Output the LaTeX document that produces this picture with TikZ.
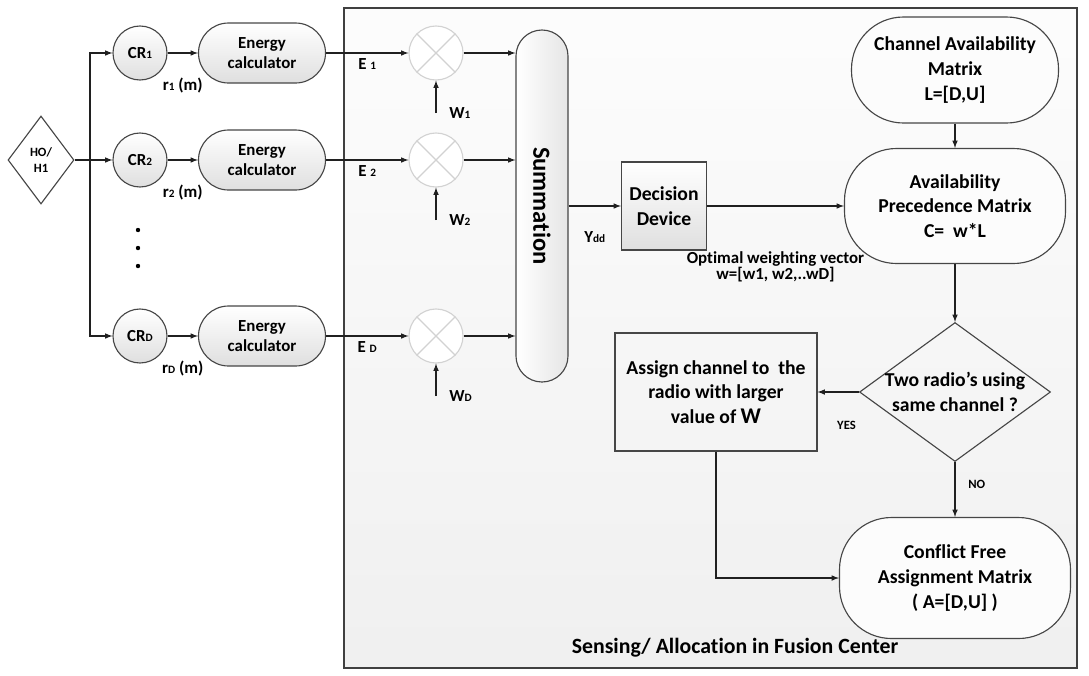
\documentclass[tikz,border=0pt]{standalone}
\usepackage{graphicx,fontspec}
\setmainfont[RawFeature={-liga;-clig;-calt;-dlig}]{Carlito}
\usetikzlibrary{shapes.geometric}

\begin{document}
\begin{tikzpicture}[x=0.25mm,y=-0.25mm,>=latex,
     font=\bfseries\fontsize{12}{14.5}\selectfont,
     link/.style = {draw=gray!25!black, thick},
     cr/.style = {draw=gray!55!black, thick, circle, minimum size=13.5mm, inner sep=0mm,
      top color=white, bottom color=gray!25},
     energy/.style = {draw=gray!55!black, thick, rectangle, rounded corners=7.5mm,
      minimum width=31.75mm, minimum height=15mm, align=center,
      top color=white, bottom color=gray!25, node distance=30.5mm},
     mult/.style = {draw=gray!35, thick, circle, minimum size=13.5mm, fill=white, node distance=43.5mm},
     sum/.style = {draw=gray!55!black, thick, rectangle, rounded corners=6.5mm,
      minimum width=13mm, minimum height=88mm, left color=white, right color=gray!20},
     block/.style = {draw=gray!55!black, thick, rectangle, align=center,
      font=\bfseries\fontsize{14}{17.5}\selectfont},
     mtx/.style = {draw=gray!55!black, thick, rectangle, rounded corners=13mm, align=center,
      fill=gray!2, font=\bfseries\fontsize{14}{17.5}\selectfont},
     decision/.style = {draw=gray!55!black, thick, diamond, align=center},
     note/.style = {align=center, font=\bfseries\fontsize{12}{12}\selectfont},
     yesno/.style = {font=\bfseries\fontsize{9}{10}\selectfont},
     heading/.style = {font=\bfseries\fontsize{15.5}{18}\selectfont}
    ]
    \useasboundingbox (0,0) rectangle (1089,675);

    % fusion center
    \draw[draw=gray!50!black, thick, top color=gray!2, bottom color=gray!12] (344,8) rectangle (1077,668);

    \node [decision, aspect=0.75, minimum width=16.5mm, minimum height=22mm, fill=white,
      font=\bfseries\fontsize{9}{11}\selectfont] (h0) at (41,160) {HO/\\H1};
    \node [cr] (cr1) at (140,53) {CR{\footnotesize 1}};
    \node [cr] (cr2) at (140,160) {CR{\footnotesize 2}};
    \node [cr] (crd) at (140,336) {CR{\footnotesize D}};
    \node [energy, right of=cr1] (ec1) {Energy\\calculator};
    \node [energy, right of=cr2] (ec2) {Energy\\calculator};
    \node [energy, right of=crd] (ecd) {Energy\\calculator};
    \node [mult, right of=ec1] (m1) {};
    \node [mult, right of=ec2] (m2) {};
    \node [mult, right of=ecd] (md) {};
    \coordinate [below of=m1, node distance=15mm] (w1);
    \coordinate [below of=m2, node distance=15mm] (w2);
    \coordinate [below of=md, node distance=15mm] (wd);
    \coordinate (split) at (90,160);

    \node [sum] (summ) at (542,206) {\fontsize{17.5}{20}\selectfont\rotatebox{-90}{Summation}};
    \node [block, right of=summ, node distance=30.5mm, minimum width=21.25mm, minimum height=22mm,
      top color=white, bottom color=gray!25] (dd) {Decision\\Device};
    \node [mtx, right of=dd, node distance=72.75mm, minimum width=55.25mm, minimum height=28.75mm] (apm)
      {Availability\\Precedence Matrix\\C=\ \ w*L};
    \node [mtx, above of=apm, node distance=34mm, minimum width=51.75mm, minimum height=26.5mm] (cam)
      {Channel Availability\\Matrix\\L=[D,U]};
    \node [decision, below of=apm, node distance=46.5mm, aspect=1.37, inner sep=-2mm,
      minimum width=47.75mm, minimum height=34.75mm, font=\bfseries\fontsize{14}{17.5}\selectfont] (dia)
      {Two radio’s using\\same channel ?};
    \node [mtx, below of=dia, node distance=46.5mm, minimum width=57.75mm, minimum height=30.25mm] (cfm)
      {Conflict Free\\Assignment Matrix\\( A=[D,U] )};
    \node [block, left of=dia, node distance=59.75mm, minimum width=50.5mm, minimum height=29.5mm] (asg)
      {Assign channel to\ \ the\\radio with larger\\value of {\fontsize{16}{16}\selectfont W}};
    \node [heading] (fc) at (735,648) {Sensing/ Allocation in Fusion Center};

    \foreach \y in {230,248,266} \fill (138,\y) circle (0.55mm);
    \foreach \m in {m1,m2,md}
      \draw[gray!35, thick] (\m.north west) -- (\m.south east) (\m.north east) -- (\m.south west);

    \draw[->, link] (h0) -- (cr2);
    \draw[->, link] (split) |- (cr1);
    \draw[->, link] (split) |- (crd);
    \draw[->, link] (cr1) -- (ec1) node [midway, below=5mm] {r{\footnotesize 1} (m)};
    \draw[->, link] (cr2) -- (ec2) node [midway, below=5mm] {r{\footnotesize 2} (m)};
    \draw[->, link] (crd) -- (ecd) node [midway, below=5mm] {r{\footnotesize D} (m)};
    \draw[->, link] (ec1) -- (m1) node [midway, below] {E {\footnotesize 1}};
    \draw[->, link] (ec2) -- (m2) node [midway, below] {E {\footnotesize 2}};
    \draw[->, link] (ecd) -- (md) node [midway, below] {E {\footnotesize D}};
    \draw[->, link] (w1) node [right, xshift=2mm] {W{\footnotesize 1}} -- (m1);
    \draw[->, link] (w2) node [right, xshift=2mm] {W{\footnotesize 2}} -- (m2);
    \draw[->, link] (wd) node [right, xshift=2mm] {W{\footnotesize D}} -- (md);
    \draw[->, link] (m1) -- (m1 -| summ.west);
    \draw[->, link] (m2) -- (m2 -| summ.west);
    \draw[->, link] (md) -- (md -| summ.west);
    \draw[->, link] (summ) -- (dd) node [midway, below=5mm] {Y{\footnotesize dd}};
    \draw[->, link] (dd) -- (apm) node [midway, below=10mm, note] {Optimal weighting vector\\w=[w1, w2,..wD]};
    \draw[->, link] (cam) -- (apm);
    \draw[->, link] (apm) -- (dia);
    \draw[->, link] (dia) -- (asg) node [pos=0.3, below=6mm, yesno] {YES};
    \draw[->, link] (dia) -- (cfm) node [pos=0.4, right, xshift=2mm, yesno] {NO};
    \draw[->, link] (asg) |- (cfm);
\end{tikzpicture}
\end{document}
